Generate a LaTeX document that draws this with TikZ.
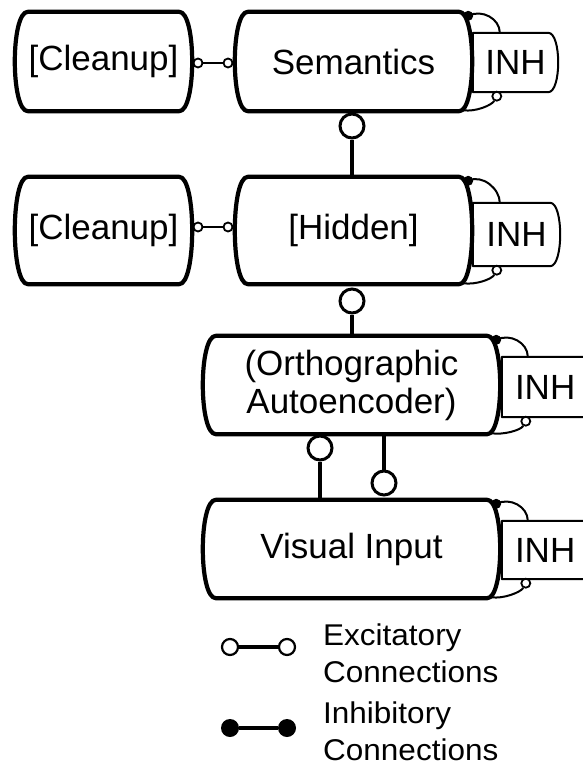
\documentclass[tikz,border=0pt]{standalone}
\usepackage{fontspec}
\setmainfont{Liberation Sans}
\newfontfamily\legendfont[FakeStretch=1.05]{Liberation Sans}
\usetikzlibrary{calc}
\newcommand\barrel[3]{%
  \draw[#3] ($(#1.north west)+(#2,0)$) -- ($(#1.north east)+(-#2,0)$)
    .. controls ($(#1.north east)+(#2/3,0)$) and ($(#1.south east)+(#2/3,0)$) .. ($(#1.south east)+(-#2,0)$)
    -- ($(#1.south west)+(#2,0)$)
    .. controls ($(#1.south west)+(-#2/3,0)$) and ($(#1.north west)+(-#2/3,0)$) .. cycle;}
\newcommand\halfbarrel[3]{%
  \draw[#3] (#1.north west) -- ($(#1.north east)+(-#2,0)$)
    .. controls ($(#1.north east)+(#2/3,0)$) and ($(#1.south east)+(#2/3,0)$) .. ($(#1.south east)+(-#2,0)$)
    -- (#1.south west) -- cycle;}
\tikzset{
  boxtext/.style={draw=none, inner sep=0pt, font=\fontsize{35}{38}\selectfont, align=center},
  inhtext/.style={draw=none, inner xsep=0pt, inner ysep=0pt, font=\fontsize{35}{38}\selectfont},
  inhcut/.style={draw=none, inner xsep=13pt, inner ysep=0pt, text width=74pt, align=left, font=\fontsize{35}{38}\selectfont},
  mainline/.style={line width=4.2pt, line join=round},
  inhline/.style={line width=2pt, line join=round},
  conn/.style={line width=3.5pt},
  bigexc/.style={circle, draw, line width=3pt, fill=white, minimum size=24pt, inner sep=0pt},
  smallexc/.style={circle, draw, line width=1.8pt, fill=white, minimum size=9pt, inner sep=0pt},
  smallinh/.style={circle, fill=black, minimum size=10pt, inner sep=0pt},
  legexc/.style={circle, draw, line width=2.2pt, fill=white, minimum size=16pt, inner sep=0pt},
  leginh/.style={circle, fill=black, minimum size=18pt, inner sep=0pt},
  selfloop/.style={line width=2pt},
  legtext/.style={inner sep=0pt, align=left, font=\fontsize{30}{37}\legendfont},
}
\begin{document}
\begin{tikzpicture}[x=1pt,y=-1pt]
\path[use as bounding box] (0,0) rectangle (583,773);
\clip (0,0) rectangle (583,773);
% nodes
\node[boxtext, minimum width=177pt, minimum height=99pt] (cl1) at (103.5,61.5) {[Cleanup]};
\node[boxtext, minimum width=237pt, minimum height=99pt] (sem) at (353.5,61.5) {Semantics};
\node[inhtext, minimum width=85pt, minimum height=59pt] (inh1) at (515.5,62.5) {INH};
\node[boxtext, minimum width=177pt, minimum height=107pt] (cl2) at (103.5,230.5) {[Cleanup]};
\node[boxtext, minimum width=237pt, minimum height=107pt] (hid) at (353.5,230.5) {[Hidden]};
\node[inhtext, minimum width=87pt, minimum height=63pt] (inh2) at (516.5,234.5) {INH};
\node[boxtext, minimum width=297pt, minimum height=98pt] (ortho) at (351.5,385) {(Orthographic\\Autoencoder)};
\node[inhcut, minimum height=60pt] (inh3) at (552,387) {INH};
\node[boxtext, minimum width=297pt, minimum height=98pt] (vis) at (351.5,549) {Visual Input};
\node[inhcut, minimum height=58pt] (inh4) at (552,550) {INH};
% outlines
\halfbarrel{inh1}{10}{inhline}
\halfbarrel{inh2}{10}{inhline}
\halfbarrel{inh3}{10}{inhline}
\halfbarrel{inh4}{10}{inhline}
\barrel{cl1}{13}{mainline}
\barrel{sem}{13}{mainline}
\barrel{cl2}{13}{mainline}
\barrel{hid}{13}{mainline}
\barrel{ortho}{13}{mainline}
\barrel{vis}{13}{mainline}
% horizontal excitatory connections
\node[smallexc] (h1a) at (198,63) {};
\node[smallexc] (h1b) at (228,63) {};
\draw[conn, line width=2.5pt] (h1a) -- (h1b);
\node[smallexc] (h2a) at (198,227) {};
\node[smallexc] (h2b) at (228,227) {};
\draw[conn, line width=2.5pt] (h2a) -- (h2b);
% vertical connections
\node[bigexc] (v1) at (352,126) {};
\draw[conn] (v1) -- (v1 |- hid.north);
\node[bigexc] (v2) at (352,301) {};
\draw[conn] (v2) -- (v2 |- ortho.north);
\node[bigexc] (v3) at (320,448) {};
\draw[conn] (v3) -- (v3 |- vis.north);
\node[bigexc] (v4) at (384,483) {};
\draw[conn] (v4 |- ortho.south) -- (v4);
% self loops with INH
\foreach \m/\i/\dx in {sem/inh1/27, hid/inh2/27, ortho/inh3/26, vis/inh4/26}{
  \node[smallinh] (d\i) at ($(\m.north east)+(-4,4)$) {};
  \node[smallexc] (o\i) at ($(\i.south west)+(24,4)$) {};
  \draw[selfloop] (d\i.center) .. controls +(14,-7) and +(0,-14) .. ($(\i.north west)+(\dx,0)$);
  \draw[selfloop] (o\i) .. controls +(-5,9) and +(12,2) .. ($(\m.south east)+(-9,-1)$);
}
% legend
\node[legexc] (ea) at (230,647) {};
\node[legexc] (eb) at (287,647) {};
\draw[conn] (ea) -- (eb);
\node[leginh] (ia) at (230,728) {};
\node[leginh] (ib) at (287,728) {};
\draw[conn] (ia) -- (ib);
\node[legtext, anchor=north west] (lexc) at (323,624) {Excitatory\\Connections};
\node[legtext, anchor=north west] (linh) at (323,702) {Inhibitory\\Connections};
\end{tikzpicture}
\end{document}
